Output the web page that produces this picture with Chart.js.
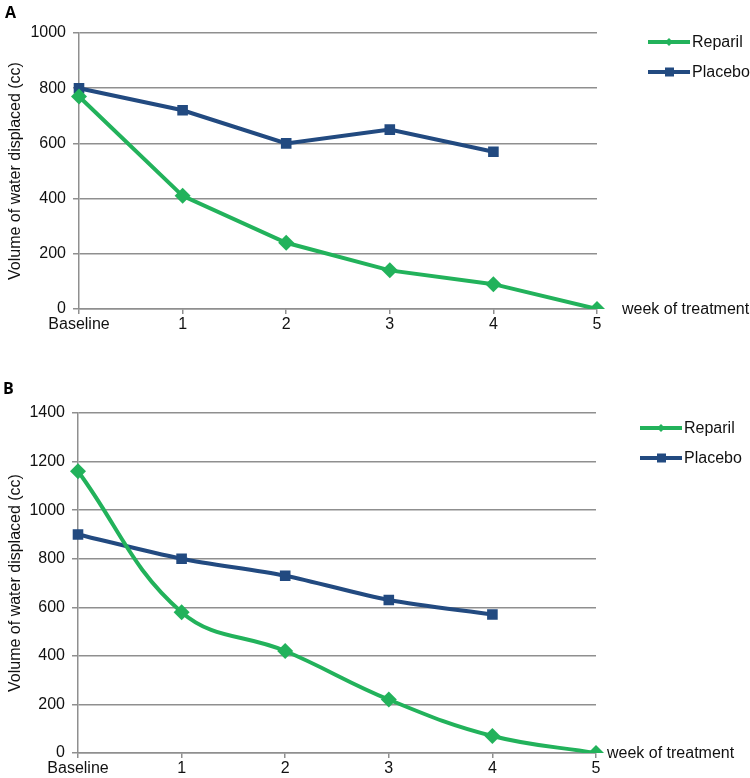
<!DOCTYPE html>
<html>
<head>
<meta charset="utf-8">
<script src="https://cdn.jsdelivr.net/npm/chart.js@4/dist/chart.umd.min.js"></script>
<style>
    body { margin: 0; background: #fff; font-family: "Liberation Sans", Arial, sans-serif; }
    #wrap { position: relative; width: 750px; height: 778px; }
    .panel { position: absolute; left: 0; width: 750px; }
    .tag { position: absolute; font-weight: bold; font-size: 16px; font-family: "Open Sans", "Liberation Sans", sans-serif; }
</style>
</head>
<body>
<div id="wrap">
    <div class="panel" style="top:0;height:360px"><canvas id="chartA"></canvas></div>
    <div class="panel" style="top:360px;height:418px"><canvas id="chartB"></canvas></div>
    <div class="tag" style="left:5px;top:1px">A</div>
    <div class="tag" style="left:3px;top:377px">B</div>
</div>
<script>
const weeks = ['Baseline', '1', '2', '3', '4', '5'];

const reparilA = [770, 410, 240, 140, 90, 0];
const placeboA = [800, 720, 600, 650, 570, null];

const reparilB = [1160, 580, 420, 220, 70, 0];
const placeboB = [900, 800, 730, 630, 570, null];

const seriesNames = ['Reparil', 'Placebo'];
const green = '#22b25b';
const blue = '#224a80';
const gridGray = '#8f8f8f';
const fontFamily = '"Liberation Sans", Arial, sans-serif';

// draws the Excel-like legend and the "week of treatment" caption
const extras = {
    id: 'extras',
    afterDraw(chart, args, opts) {
        const ctx = chart.ctx;
        const x = chart.scales.x, y = chart.scales.y;
        ctx.save();
        ctx.font = '16px ' + fontFamily;
        ctx.fillStyle = '#111';
        ctx.textBaseline = 'middle';
        ctx.fillText('week of treatment', x.getPixelForValue(5) + opts.captionGap, y.getPixelForValue(0) + 1);

        chart.data.datasets.forEach((ds, i) => {
            const ly = opts.legendTop + i * opts.legendStep;
            const lx = opts.legendLeft;
            ctx.strokeStyle = ds.borderColor;
            ctx.lineWidth = 4;
            ctx.beginPath();
            ctx.moveTo(lx, ly);
            ctx.lineTo(lx + 42, ly);
            ctx.stroke();
            ctx.fillStyle = ds.borderColor;
            ctx.beginPath();
            if (ds.pointStyle === 'rect') {
                ctx.rect(lx + 17, ly - 4.5, 9, 9);
            } else {
                ctx.moveTo(lx + 21, ly - 4);
                ctx.lineTo(lx + 25, ly);
                ctx.lineTo(lx + 21, ly + 4);
                ctx.lineTo(lx + 17, ly);
                ctx.closePath();
            }
            ctx.fill();
            ctx.fillStyle = '#111';
            ctx.fillText(ds.label, lx + 44, ly + 1);
        });
        ctx.restore();
    }
};

function makeChart(id, height, reparil, placebo, yMax, box, smooth, extraOpts) {
    const canvas = document.getElementById(id);
    canvas.width = 750;
    canvas.height = height;
    return new Chart(canvas.getContext('2d'), {
        type: 'line',
        data: {
            labels: weeks,
            datasets: [{
                label: seriesNames[0],
                data: reparil,
                borderColor: green,
                backgroundColor: green,
                borderWidth: 4,
                pointStyle: 'rectRot',
                pointRadius: 8,
                pointBorderWidth: 0,
                tension: smooth ? 0.4 : 0
            }, {
                label: seriesNames[1],
                data: placebo,
                borderColor: blue,
                backgroundColor: blue,
                borderWidth: 4,
                pointStyle: 'rect',
                pointRadius: 7.5,
                pointBorderWidth: 0,
                tension: smooth ? 0.3 : 0
            }]
        },
        options: {
            responsive: false,
            animation: false,
            layout: { padding: { left: 0, right: 750 - box.right, top: box.top, bottom: 0 } },
            plugins: {
                legend: { display: false },
                tooltip: { enabled: false },
                extras: extraOpts
            },
            scales: {
                x: {
                    type: 'category',
                    offset: false,
                    afterFit: s => { s.height = height - box.bottom; },
                    grid: { display: true, drawOnChartArea: false, drawTicks: true, tickLength: 5, color: gridGray, lineWidth: 1.5 },
                    border: { color: gridGray, width: 1.5 },
                    ticks: {
                        color: '#111',
                        font: { size: 16, family: fontFamily },
                        padding: 1,
                        maxRotation: 0,
                        autoSkip: false
                    }
                },
                y: {
                    min: 0,
                    max: yMax,
                    afterFit: s => { s.width = box.left; },
                    grid: { color: gridGray, lineWidth: 1.5, tickLength: 6 },
                    border: { color: gridGray, width: 1.5 },
                    ticks: {
                        stepSize: 200,
                        color: '#111',
                        padding: 7,
                        font: { size: 16, family: fontFamily },
                        callback: v => String(v)
                    },
                    title: {
                        display: true,
                        text: 'Volume of water displaced (cc)',
                        color: '#111',
                        padding: { top: 6, bottom: 0 },
                        font: { size: 16, family: fontFamily }
                    }
                }
            }
        },
        plugins: [extras]
    });
}

makeChart('chartA', 360, reparilA, placeboA, 1000,
    { left: 79, right: 597, top: 33, bottom: 309 }, false,
    { captionGap: 25, legendLeft: 648, legendTop: 42, legendStep: 30 });

makeChart('chartB', 418, reparilB, placeboB, 1400,
    { left: 78, right: 596, top: 53, bottom: 393 }, true,
    { captionGap: 11, legendLeft: 640, legendTop: 68, legendStep: 30 });
</script>
</body>
</html>
